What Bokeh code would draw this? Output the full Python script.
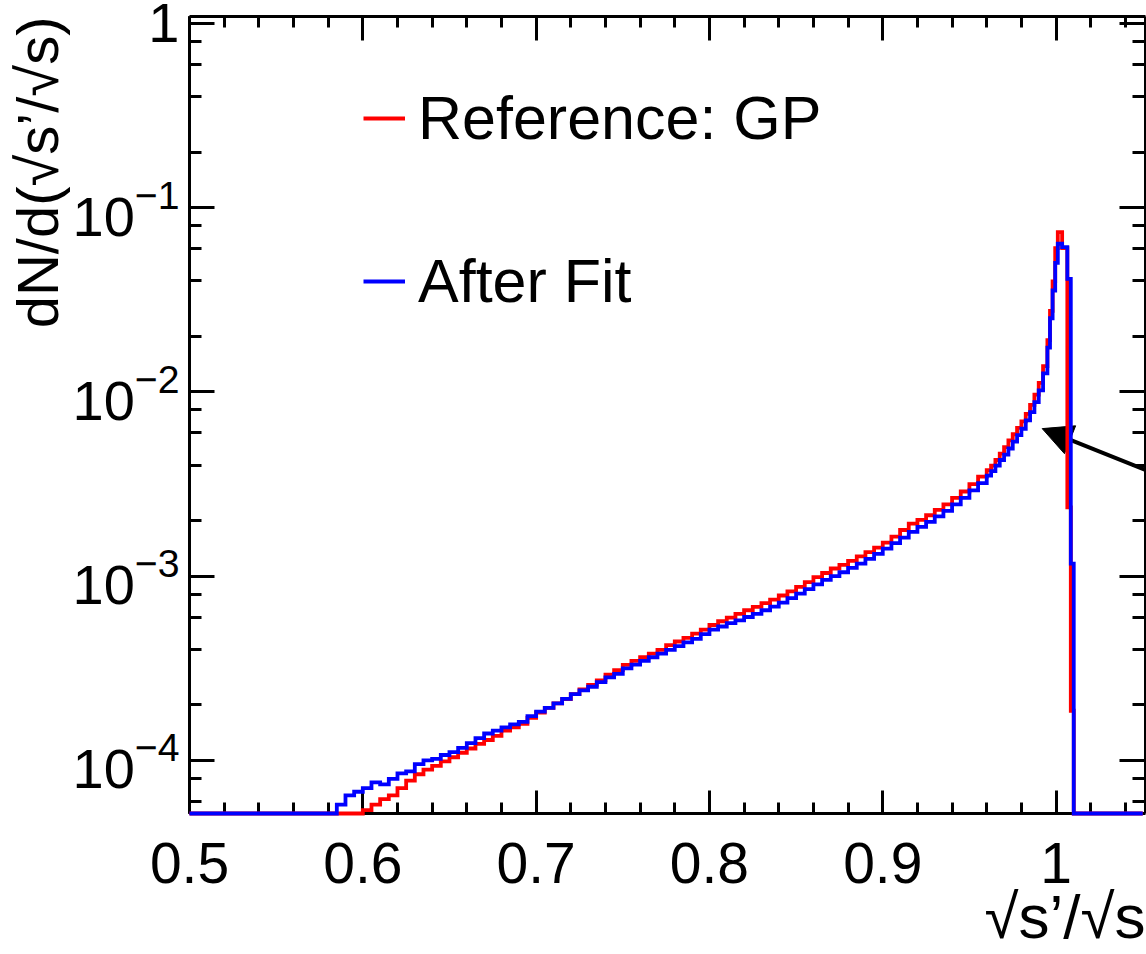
import numpy as np
from bokeh.plotting import figure
from bokeh.models import (LinearAxis, LogAxis, Range1d, Title, Arrow, NormalHead,
                          Legend, LegendItem, FixedTicker, LogTicker, CustomJSTickFormatter)
from bokeh.embed import file_html
from bokeh.resources import INLINE

# ---------------- data ----------------
# histogram bin edges: one empty bin, 0.005 bins, 0.0025 bins, fine bins at the peak
edges_lo = [0.5]
edges_mid = list(np.round(np.arange(0.58, 0.9599, 0.005), 4))
edges_fine = list(np.round(np.arange(0.96, 0.9899, 0.0025), 5))
edges_peak = [0.99, 0.9925, 0.995, 0.9965, 0.998, 0.9995, 1.001, 1.0035, 1.0065,
              1.0085, 1.0102, 1.05]
bin_edges = np.array(edges_lo + edges_mid + edges_fine + edges_peak)

reference_gp = [
    0.0,
    0.0, 0.0, 0.0, 0.0,
    5.37e-5, 5.75e-5, 6.17e-5, 6.46e-5, 7.08e-5, 7.76e-5, 8.41e-5, 8.91e-5, 9.33e-5, 9.89e-5,
    1.04e-4, 1.10e-4, 1.16e-4, 1.23e-4, 1.29e-4, 1.36e-4, 1.45e-4, 1.51e-4, 1.58e-4, 1.70e-4,
    1.82e-4, 1.93e-4, 2.04e-4, 2.15e-4, 2.29e-4, 2.43e-4, 2.57e-4, 2.72e-4, 2.92e-4, 3.09e-4,
    3.30e-4, 3.47e-4, 3.63e-4, 3.80e-4, 3.98e-4, 4.22e-4, 4.42e-4, 4.62e-4, 4.88e-4, 5.13e-4,
    5.43e-4, 5.69e-4, 5.96e-4, 6.24e-4, 6.53e-4, 6.81e-4, 7.13e-4, 7.46e-4, 7.85e-4, 8.26e-4,
    8.75e-4, 9.27e-4, 9.89e-4, 1.04e-3, 1.10e-3, 1.15e-3, 1.21e-3, 1.28e-3, 1.35e-3, 1.43e-3,
    1.52e-3, 1.64e-3, 1.78e-3, 1.93e-3, 2.02e-3, 2.14e-3, 2.29e-3, 2.45e-3, 2.66e-3, 2.88e-3,
    3.16e-3, 3.47e-3,
    3.76e-3, 3.98e-3, 4.27e-3, 4.62e-3, 5.01e-3, 5.46e-3, 5.89e-3, 6.38e-3, 6.92e-3, 7.59e-3,
    8.51e-3, 9.66e-3,
    1.12e-2, 1.38e-2, 1.91e-2, 2.75e-2, 3.98e-2, 6.03e-2, 7.36e-2, 6.03e-2, 2.36e-3, 1.86e-4, 0.0,
]

after_fit = [
    0.0,
    0.0, 5.75e-5, 6.46e-5, 6.76e-5,
    7.08e-5, 7.59e-5, 7.41e-5, 7.94e-5, 8.51e-5, 8.71e-5, 9.55e-5, 1.00e-4, 1.02e-4, 1.07e-4,
    1.11e-4, 1.17e-4, 1.24e-4, 1.32e-4, 1.40e-4, 1.45e-4, 1.51e-4, 1.57e-4, 1.62e-4, 1.74e-4,
    1.84e-4, 1.93e-4, 2.04e-4, 2.16e-4, 2.29e-4, 2.40e-4, 2.51e-4, 2.66e-4, 2.82e-4, 2.95e-4,
    3.16e-4, 3.31e-4, 3.47e-4, 3.63e-4, 3.80e-4, 3.98e-4, 4.17e-4, 4.37e-4, 4.57e-4, 4.84e-4,
    5.13e-4, 5.33e-4, 5.56e-4, 5.75e-4, 6.00e-4, 6.24e-4, 6.53e-4, 6.84e-4, 7.19e-4, 7.59e-4,
    8.04e-4, 8.51e-4, 9.02e-4, 9.55e-4, 1.00e-3, 1.05e-3, 1.11e-3, 1.17e-3, 1.24e-3, 1.32e-3,
    1.41e-3, 1.51e-3, 1.62e-3, 1.74e-3, 1.85e-3, 1.97e-3, 2.11e-3, 2.26e-3, 2.45e-3, 2.66e-3,
    2.92e-3, 3.20e-3,
    3.51e-3, 3.72e-3, 3.98e-3, 4.27e-3, 4.57e-3, 4.93e-3, 5.37e-3, 5.82e-3, 6.31e-3, 7.00e-3,
    7.76e-3, 8.81e-3,
    1.02e-2, 1.26e-2, 1.74e-2, 2.51e-2, 3.55e-2, 5.01e-2, 6.37e-2, 6.11e-2, 4.11e-2, 1.17e-3, 0.0,
]

series_names = ["Reference: GP", "After Fit"]
series_colors = ["#ff0000", "#0000ff"]

x_major_ticks = [0.5, 0.6, 0.7, 0.8, 0.9, 1.0]
x_major_labels = ["0.5", "0.6", "0.7", "0.8", "0.9", "1"]
x_minor_ticks = list(np.round(np.arange(0.5, 1.06, 0.02), 3))
y_top_label = {1: "1"}

x_title = "\u221as\u2019/\u221as"
y_title = "dN/d(\u221as\u2019/\u221as)"

x_lo, x_hi = 0.5, 1.0516
y_lo, y_hi = 5.15e-5, 1.09

# arrow (annotation) positions in data units
arrow_start = (1.0522, 3.75e-3)
arrow_end = (0.9920, 6.32e-3)

FONT = "Liberation Sans"

# ---------------- figure ----------------
p = figure(width=1146, height=954,
           x_range=Range1d(x_lo, x_hi), y_range=Range1d(y_lo, y_hi),
           y_axis_type="log", output_backend="svg", toolbar_location=None,
           min_border_left=189, min_border_right=1, min_border_top=16,
           min_border_bottom=141)
p.grid.visible = False
p.outline_line_color = None
p.background_fill_color = "white"
p.border_fill_color = "white"

xt = FixedTicker(ticks=x_major_ticks, minor_ticks=x_minor_ticks)
yt = LogTicker()
blank = CustomJSTickFormatter(code="return ''")


def style_axis(ax, major_in, minor_in):
    ax.axis_line_width = 3
    ax.axis_line_color = "black"
    ax.major_tick_line_width = 3
    ax.minor_tick_line_width = 3
    ax.major_tick_in = major_in
    ax.major_tick_out = 0
    ax.minor_tick_in = minor_in
    ax.minor_tick_out = 0
    ax.major_label_text_font = FONT
    ax.major_label_text_color = "black"


xa = p.xaxis[0]
xa.ticker = xt
xa.major_label_overrides = dict(zip(x_major_ticks, x_major_labels))
style_axis(xa, 23, 11)
xa.major_label_text_font_size = "57px"
xa.major_label_standoff = 29

ya = p.yaxis[0]
ya.ticker = yt
ya.major_label_overrides = y_top_label
style_axis(ya, 25, 12)
ya.major_label_text_font_size = "56px"
ya.major_label_standoff = 10

top = LinearAxis(ticker=xt, formatter=blank, major_label_standoff=0)
style_axis(top, 24, 11)
p.add_layout(top, "above")

right = LogAxis(ticker=yt, formatter=blank, major_label_standoff=0)
style_axis(right, 26, 13)
p.add_layout(right, "right")

# ---------------- axis titles (ROOT style, at the end of each axis) ----------------
p.add_layout(Title(text=y_title, align="right", text_font=FONT, text_font_size="58px",
                   text_font_style="normal", text_color="black", standoff=0), "left")
p.add_layout(Title(text=x_title, align="right", text_font=FONT, text_font_size="62px",
                   text_font_style="normal", text_color="black", standoff=-12), "below")

# ---------------- histograms ----------------
renderers = []
for vals, col in zip([reference_gp, after_fit], series_colors):
    v = np.array(vals, dtype=float)
    xs = np.repeat(bin_edges, 2)[1:-1]
    ys = np.repeat(np.where(v > 0, v, y_lo), 2)
    r = p.line(xs, ys, line_color=col, line_width=3.8, line_join="miter")
    r.level = "overlay"
    renderers.append(r)

legend = Legend(items=[LegendItem(label=series_names[i], renderers=[renderers[i]]) for i in range(2)],
                location=(174, 497), orientation="vertical",
                label_text_font=FONT, label_text_font_size="61px",
                label_text_color="black", label_standoff=13,
                glyph_width=42, glyph_height=20, spacing=93, padding=0, margin=0,
                border_line_alpha=0, background_fill_alpha=0)
p.add_layout(legend, "center")

# ---------------- arrow ----------------
p.add_layout(Arrow(end=NormalHead(size=30, fill_color="black", line_color="black", line_width=1),
                   x_start=arrow_start[0], y_start=arrow_start[1],
                   x_end=arrow_end[0], y_end=arrow_end[1],
                   line_width=4, line_color="black"))

open("out.html", "w").write(file_html(p, INLINE))
